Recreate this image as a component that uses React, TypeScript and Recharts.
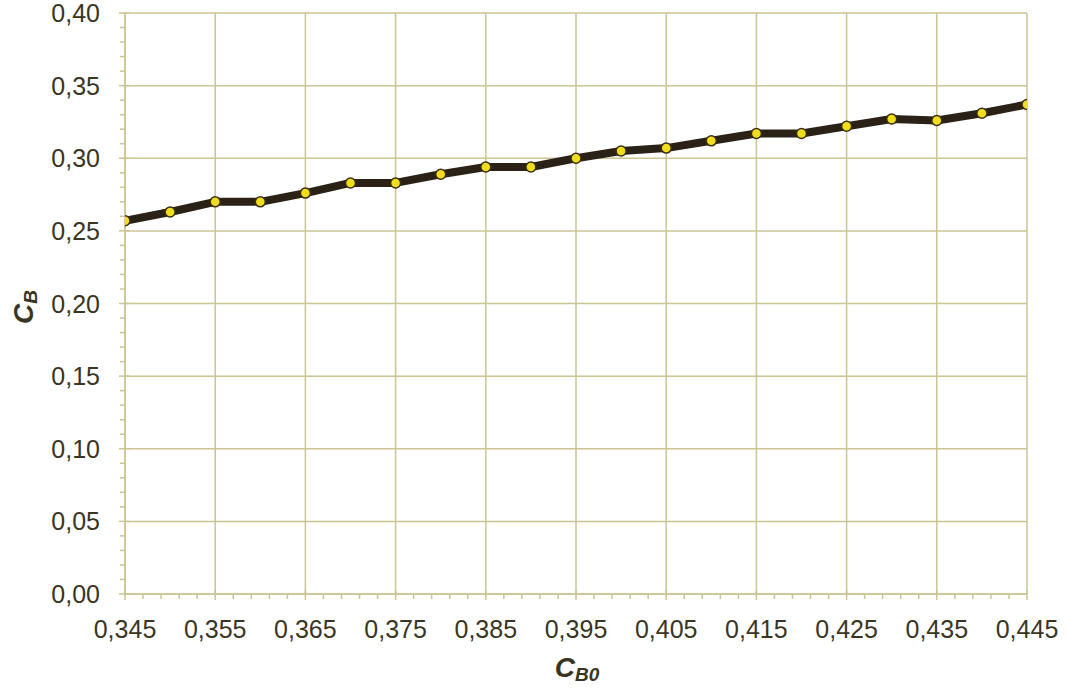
import React from "react";
import {
  LineChart,
  Line,
  XAxis,
  YAxis,
  ReferenceLine,
} from "recharts";

const cb0Values = [
  0.345, 0.35, 0.355, 0.36, 0.365, 0.37, 0.375, 0.38, 0.385, 0.39, 0.395,
  0.4, 0.405, 0.41, 0.415, 0.42, 0.425, 0.43, 0.435, 0.44, 0.445,
];
const cbValues = [
  0.257, 0.263, 0.27, 0.27, 0.276, 0.283, 0.283, 0.289, 0.294, 0.294, 0.3,
  0.305, 0.307, 0.312, 0.317, 0.317, 0.322, 0.327, 0.326, 0.331, 0.337,
];

const xMajorTicks = [
  0.345, 0.355, 0.365, 0.375, 0.385, 0.395, 0.405, 0.415, 0.425, 0.435, 0.445,
];
const yMajorTicks = [0, 0.05, 0.1, 0.15, 0.2, 0.25, 0.3, 0.35, 0.4];

// minor tick marks: every 0.002 on x, every 0.01 on y
const xAllTicks = Array.from({ length: 51 }, (_, i) =>
  Number((0.345 + i * 0.002).toFixed(3)),
);
const yAllTicks = Array.from({ length: 41 }, (_, i) =>
  Number((i * 0.01).toFixed(2)),
);

const data = cb0Values.map((x, i) => ({ x, y: cbValues[i] }));

const GRID = "#cbc493";
const TEXT = "#3a3523";
const FONT = "'Liberation Sans', Arial, sans-serif";

const isMajor = (v: number, majors: number[]) =>
  majors.some((m) => Math.abs(m - v) < 1e-6);

const XTick = (props: any) => {
  const { x, y, payload } = props;
  const v = payload.value as number;
  const major = isMajor(v, xMajorTicks);
  return (
    <g>
      <line x1={x} x2={x} y1={y - (major ? 4 : 0)} y2={y + (major ? 6 : 5)} stroke={GRID} strokeWidth={1.5} />
      {major && (
        <text x={x} y={y + 44} textAnchor="middle" fontSize={25} fill={TEXT} fontFamily={FONT}>
          {v.toFixed(3).replace(".", ",")}
        </text>
      )}
    </g>
  );
};

const YTick = (props: any) => {
  const { x, y, payload } = props;
  const v = payload.value as number;
  const major = isMajor(v, yMajorTicks);
  return (
    <g>
      <line x1={x - (major ? 6 : 5)} x2={x + (major ? 4 : 0)} y1={y} y2={y} stroke={GRID} strokeWidth={1.5} />
      {major && (
        <text x={x - 25} y={y + 9} textAnchor="end" fontSize={25} fill={TEXT} fontFamily={FONT}>
          {v.toFixed(2).replace(".", ",")}
        </text>
      )}
    </g>
  );
};

export default function App() {
  return (
    <div style={{ position: "absolute", left: 0, top: 0, width: 1068, height: 688, background: "#fff" }}>
      <LineChart
        width={1068}
        height={688}
        data={data}
        margin={{ top: 13, right: 41, left: 0, bottom: 0 }}
      >
        <XAxis
          dataKey="x"
          type="number"
          domain={[0.345, 0.445]}
          ticks={xAllTicks}
          interval={0}
          tick={<XTick />}
          tickLine={false}
          tickSize={0}
          tickMargin={0}
          height={94}
          axisLine={{ stroke: GRID, strokeWidth: 1.5 }}
          allowDataOverflow
        />
        <YAxis
          type="number"
          domain={[0, 0.4]}
          ticks={yAllTicks}
          interval={0}
          tick={<YTick />}
          tickLine={false}
          tickSize={0}
          tickMargin={0}
          width={125}
          axisLine={{ stroke: GRID, strokeWidth: 1.5 }}
          allowDataOverflow
        />
        {xMajorTicks.map((t) => (
          <ReferenceLine key={"vx" + t} x={t} stroke={GRID} strokeWidth={1.5} />
        ))}
        {yMajorTicks.map((t) => (
          <ReferenceLine key={"hy" + t} y={t} stroke={GRID} strokeWidth={1.5} />
        ))}
        <Line
          type="linear"
          dataKey="y"
          stroke="#2a2117"
          strokeWidth={8}
          strokeLinejoin="round"
          dot={{ r: 5, fill: "#f0de1c", stroke: "#3b2e12", strokeWidth: 1.5 }}
          activeDot={false}
          isAnimationActive={false}
        />
      </LineChart>
      <svg
        width={1068}
        height={688}
        style={{ position: "absolute", left: 0, top: 0, pointerEvents: "none" }}
      >
        <text x={577} y={677} textAnchor="middle" fill={TEXT} fontFamily={FONT} fontWeight="bold" fontStyle="italic">
          <tspan fontSize={28}>C</tspan>
          <tspan fontSize={19} dy={4}>B0</tspan>
        </text>
        <text
          x={0}
          y={0}
          transform="translate(33 307) rotate(-90)"
          textAnchor="middle"
          fill={TEXT}
          fontFamily={FONT}
          fontWeight="bold"
          fontStyle="italic"
        >
          <tspan fontSize={28}>C</tspan>
          <tspan fontSize={19} dy={4}>B</tspan>
        </text>
      </svg>
    </div>
  );
}
